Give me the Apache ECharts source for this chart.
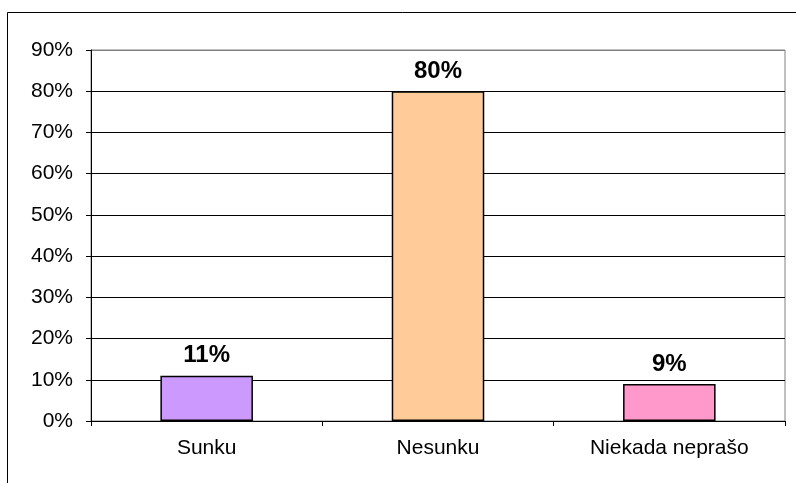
<!DOCTYPE html>
<html><head><meta charset="utf-8">
<script src="https://cdn.jsdelivr.net/npm/echarts@6/dist/echarts.min.js"></script>
<style>html,body{margin:0;padding:0;background:#fff}#c{width:796px;height:483px}</style>
</head><body><div id="c"></div>
<script>
const categories = ['Sunku', 'Nesunku', 'Niekada neprašo'];
const values = [11, 80, 9];
const barColors = ['#CC99FF', '#FFCC99', '#FF99CC'];
const yTicks = [0, 10, 20, 30, 40, 50, 60, 70, 80, 90];

const chart = echarts.init(document.getElementById('c'));
const font = '"Liberation Sans", Arial, sans-serif';
chart.setOption({
  animation: false,
  graphic: [{
    type: 'rect', shape: {x: 7.5, y: 12.5, width: 800, height: 500},
    style: {fill: 'none', stroke: '#000', lineWidth: 1}, z: -1
  }],
  grid: {left: 91, top: 50, right: 11, bottom: 62, show: true, borderColor: '#808080', borderWidth: 1, backgroundColor: 'transparent'},
  xAxis: {
    type: 'category', data: categories,
    axisLine: {lineStyle: {color: '#000', width: 1}},
    axisTick: {show: true, length: 5, alignWithLabel: false, lineStyle: {color: '#000'}},
    axisLabel: {color: '#000', fontFamily: font, fontSize: 21, margin: 17}
  },
  yAxis: {
    type: 'value', min: yTicks[0], max: yTicks[yTicks.length - 1], interval: 10,
    axisLine: {show: true, lineStyle: {color: '#000', width: 1}},
    axisTick: {show: true, length: 5, lineStyle: {color: '#000'}},
    axisLabel: {color: '#000', fontFamily: font, fontSize: 21, margin: 18, formatter: '{value}%'},
    splitLine: {show: true, lineStyle: {color: ['#000','#000','#000','#000','#000','#000','#000','#000','#000','#808080'], width: 1}}
  },
  series: [{
    type: 'bar', barWidth: '40%',
    data: values.map((v, i) => ({value: v, itemStyle: {color: barColors[i]}})),
    itemStyle: {borderColor: '#000', borderWidth: 1.5},
    label: {show: true, position: 'top', distance: 8, formatter: '{c}%', color: '#000', fontFamily: font, fontWeight: 'bold', fontSize: 24}
  }]
});
</script></body></html>
